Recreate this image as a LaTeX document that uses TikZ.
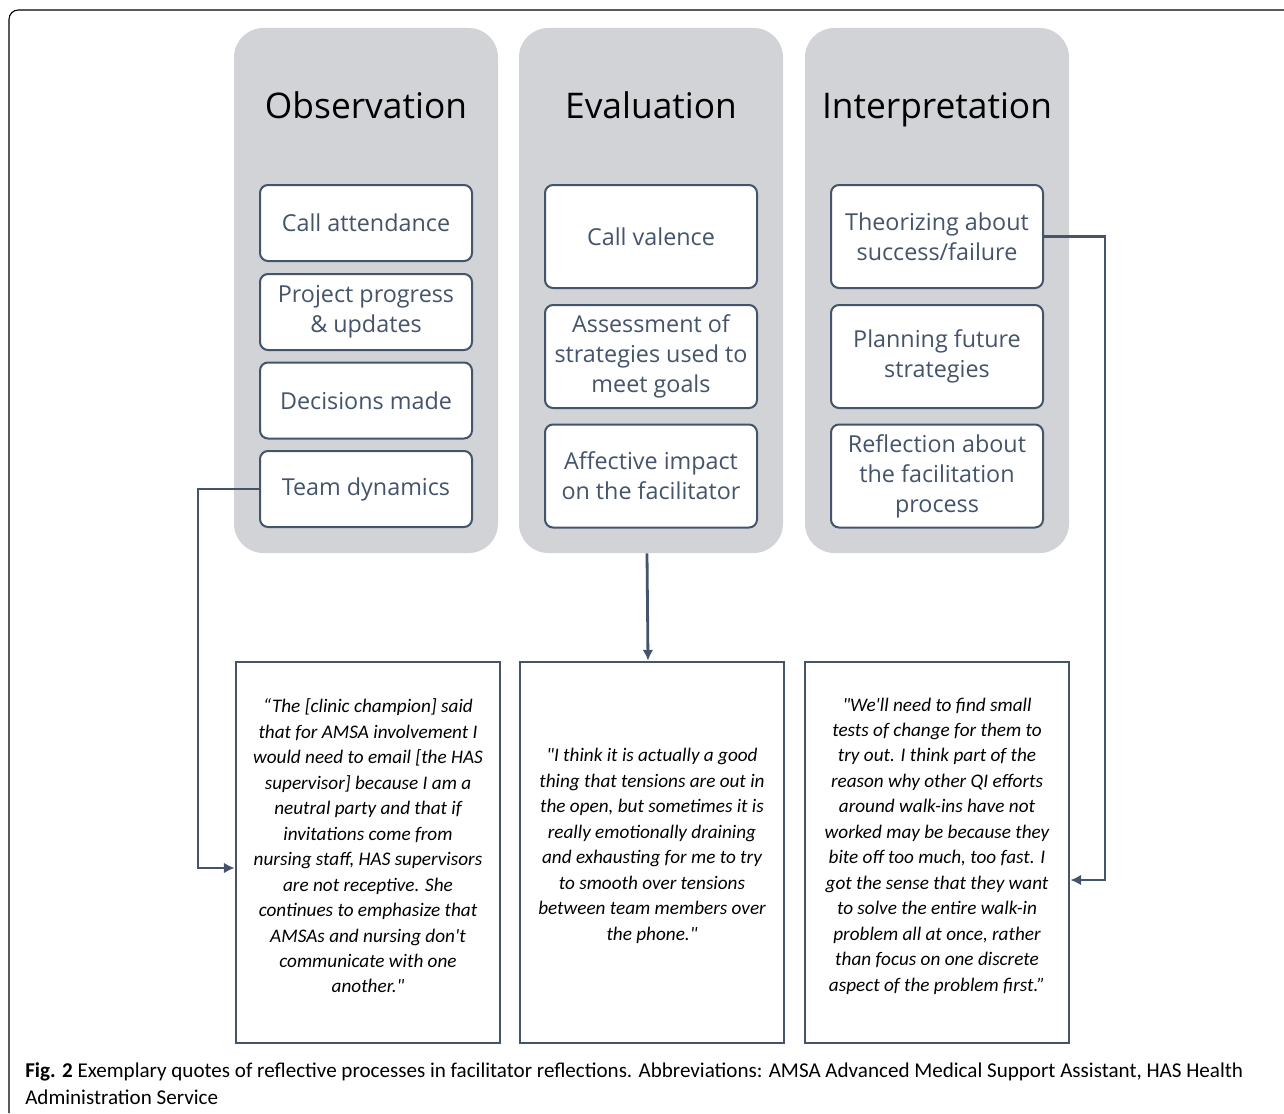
\documentclass[tikz,border=0pt]{standalone}
\usepackage{fontspec}
\setmainfont{Carlito}
\newfontfamily\boxfont{Open Sans}
\usetikzlibrary{arrows,arrows.meta}
\definecolor{slatecolor}{RGB}{68, 84, 106}
\definecolor{panelcolor}{RGB}{209, 211, 215}

\begin{document}
\begin{tikzpicture}[x=0.75pt,y=-0.75pt]
	\tikzstyle{panel} = [fill=panelcolor, rounded corners=22pt, minimum width=198pt, minimum height=393.75pt, inner sep=0pt]
	\tikzstyle{heading} = [anchor=base, text=black, font=\boxfont\fontsize{26.5}{30}\selectfont]
	\tikzstyle{item} = [draw=slatecolor, fill=white, line width=1.5pt, rounded corners=6pt, minimum width=159pt, align=center, text=slatecolor, font=\boxfont\fontsize{17.5}{22.5}\selectfont]
	\tikzstyle{quote} = [draw=slatecolor, line width=2.1pt, minimum width=198pt, minimum height=285.75pt]
	\tikzstyle{quotetext} = [align=center, inner sep=0pt, font=\itshape\fontsize{14.4}{19.1}\selectfont]
	\tikzstyle{link} = [-{Latex[length=8pt,width=8pt]}, slatecolor, line width=2.1pt]

	\useasboundingbox (0,0) rectangle (1284,1113);
	\draw[line width=0.8pt, rounded corners=7pt] (9,1113) |- (1284,10);

	% the three stages
	\node[panel] (obspanel) at (366,290.5) {};
	\node[panel] (evalpanel) at (651,290.5) {};
	\node[panel] (intpanel) at (937,290.5) {};
	\node[heading] (obshead) at (366,118) {Observation};
	\node[heading] (evalhead) at (651,118) {Evaluation};
	\node[heading] (inthead) at (937,118) {Interpretation};

	\node[item, minimum height=57pt] (attend) at (366,223) {Call attendance};
	\node[item, minimum height=57pt] (progress) at (366,312) {Project progress\\\& updates};
	\node[item, minimum height=57pt] (decision) at (366,400.5) {Decisions made};
	\node[item, minimum height=57pt] (team) at (366,489) {Team dynamics};

	\node[item, minimum height=77.25pt] (valence) at (651,236.5) {Call valence};
	\node[item, minimum height=77.25pt] (assess) at (651,356.5) {Assessment of\\strategies used to\\meet goals};
	\node[item, minimum height=77.25pt] (affect) at (651,476) {Affective impact\\on the facilitator};

	\node[item, minimum height=77.25pt] (theory) at (937,236.5) {Theorizing about\\success/failure};
	\node[item, minimum height=77.25pt] (plan) at (937,356.5) {Planning future\\strategies};
	\node[item, minimum height=77.25pt] (reflect) at (937,476) {Reflection about\\the facilitation\\process};

	% quotes
	\node[quote] (qobs) at (368,852.5) {};
	\node[quote] (qeval) at (652,852.5) {};
	\node[quote] (qint) at (937,852.5) {};
	\node[quotetext] (qobstext) at (368,846) {“The [clinic champion] said\\that for AMSA involvement I\\would need to email [the HAS\\supervisor] because I am a\\neutral party and that if\\invitations come from\\nursing staff, HAS supervisors\\are not receptive. She\\continues to emphasize that\\AMSAs and nursing don\textquotesingle t\\communicate with one\\another.\textquotedbl};
	\node[quotetext] (qevaltext) at (652,846) {\textquotedbl I think it is actually a good\\thing that tensions are out in\\the open, but sometimes it is\\really emotionally draining\\and exhausting for me to try\\to smooth over tensions\\between team members over\\the phone.\textquotedbl};
	\node[quotetext] (qinttext) at (937,846) {\textquotedbl We\textquotesingle ll need to find small\\tests of change for them to\\try out. I think part of the\\reason why other QI efforts\\around walk-ins have not\\worked may be because they\\bite off too much, too fast. I\\got the sense that they want\\to solve the entire walk-in\\problem all at once, rather\\than focus on one discrete\\aspect of the problem first.”};

	\coordinate (lbend) at (198,868);
	\coordinate (rbend) at (1105,880);
	\draw[link] (team.west) -| (lbend) -- (lbend -| qobs.west);
	\draw[link] ([xshift=-3pt]evalpanel.south) -- ([xshift=-3pt]qeval.north);
	\draw[link] (theory.east) -| (rbend) -- (rbend -| qint.east);

	\node[anchor=north west, align=left, inner sep=0pt, font=\fontsize{15.8}{20.3}\selectfont] (caption) at (25,1062) {\textbf{Fig. 2} Exemplary quotes of reflective processes in facilitator reflections. Abbreviations: AMSA Advanced Medical Support Assistant, HAS Health\\Administration Service};
\end{tikzpicture}
\end{document}
